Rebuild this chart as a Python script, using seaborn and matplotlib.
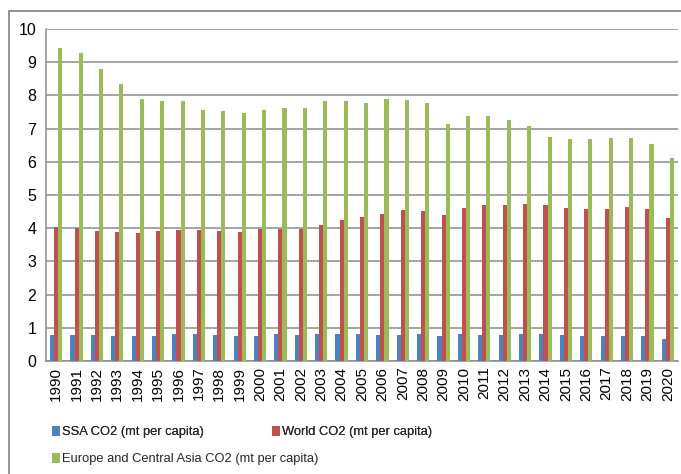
import pandas as pd
import matplotlib
matplotlib.use("Agg")
import matplotlib.pyplot as plt
from matplotlib.lines import Line2D
from matplotlib.patches import Patch
import seaborn as sns

years = [str(y) for y in range(1990, 2021)]

ssa_co2 = [0.77, 0.77, 0.77, 0.74, 0.74, 0.74, 0.80, 0.80, 0.77, 0.74,
           0.74, 0.80, 0.77, 0.80, 0.80, 0.80, 0.77, 0.77, 0.80, 0.74,
           0.80, 0.77, 0.77, 0.80, 0.80, 0.77, 0.74, 0.74, 0.74, 0.74, 0.65]
world_co2 = [4.03, 4.00, 3.91, 3.88, 3.85, 3.91, 3.94, 3.94, 3.91, 3.88,
             3.97, 3.97, 3.97, 4.09, 4.24, 4.33, 4.42, 4.54, 4.51, 4.39,
             4.60, 4.70, 4.70, 4.73, 4.70, 4.60, 4.57, 4.57, 4.63, 4.57, 4.30]
eca_co2 = [9.44, 9.27, 8.81, 8.33, 7.88, 7.82, 7.82, 7.55, 7.52, 7.46,
           7.55, 7.61, 7.61, 7.82, 7.82, 7.76, 7.88, 7.85, 7.76, 7.15,
           7.39, 7.39, 7.27, 7.09, 6.76, 6.70, 6.70, 6.73, 6.73, 6.55, 6.10]

series_names = ["SSA CO2 (mt per capita)",
                "World CO2 (mt per capita)",
                "Europe and Central Asia CO2 (mt per capita)"]
colors = ["#4F81BD", "#C0504D", "#9BBB59"]

df = pd.DataFrame({
    "year": years * 3,
    "value": ssa_co2 + world_co2 + eca_co2,
    "series": [series_names[0]] * len(years) + [series_names[1]] * len(years)
              + [series_names[2]] * len(years),
})

sns.set_style("white")
plt.rcParams["font.family"] = ["Liberation Sans", "DejaVu Sans"]

fig = plt.figure(figsize=(6.81, 4.74), dpi=100)
ax = fig.add_axes([46 / 681, 1 - 361 / 474, (678 - 46) / 681, (361 - 29) / 474])

sns.barplot(data=df, x="year", y="value", hue="series", hue_order=series_names,
            palette=colors, width=0.6, gap=0, errorbar=None, saturation=1,
            linewidth=0, ax=ax, zorder=3)

ax.set_ylim(0, 10)
ax.set_yticks(range(0, 11))
ax.set_xlim(-0.5, len(years) - 0.5)
ax.yaxis.grid(True, color="#8c8c8c", linewidth=1.1, zorder=0)
ax.set_axisbelow(True)
ax.set_xlabel("")
ax.set_ylabel("")
ax.tick_params(axis="y", length=0, pad=7, labelsize=11.5, labelcolor="black")
ax.tick_params(axis="x", length=0, pad=4, labelsize=11, labelcolor="black", rotation=90)
for s in ["top", "right"]:
    ax.spines[s].set_visible(False)
ax.spines["left"].set_color("#8c8c8c")
ax.spines["bottom"].set_color("#8c8c8c")
ax.spines["left"].set_linewidth(1.1)
ax.spines["bottom"].set_linewidth(1.1)
ax.get_legend().remove()

handles = [Patch(facecolor=c, edgecolor="none", label=n) for c, n in zip(colors, series_names)]
leg_kw = dict(frameon=False, fontsize=9.3, handlelength=0.6, handleheight=0.8,
              handletextpad=0.15, borderaxespad=0, borderpad=0)
leg1 = fig.legend(handles=handles[:2], loc="center left", ncol=2, columnspacing=5.3,
                  bbox_to_anchor=(52 / 681, 1 - 432 / 474), **leg_kw)
fig.legend(handles=handles[2:], loc="center left",
           bbox_to_anchor=(52 / 681, 1 - 459 / 474), **leg_kw)
fig.add_artist(leg1)

# outer chart frame (left and top edges)
fig.add_artist(Line2D([9 / 681, 9 / 681], [0, 1 - 11 / 474], color="#808080", linewidth=1.2))
fig.add_artist(Line2D([9 / 681, 1], [1 - 11 / 474, 1 - 11 / 474], color="#808080", linewidth=1.2))

fig.savefig("out.png", dpi=100)
